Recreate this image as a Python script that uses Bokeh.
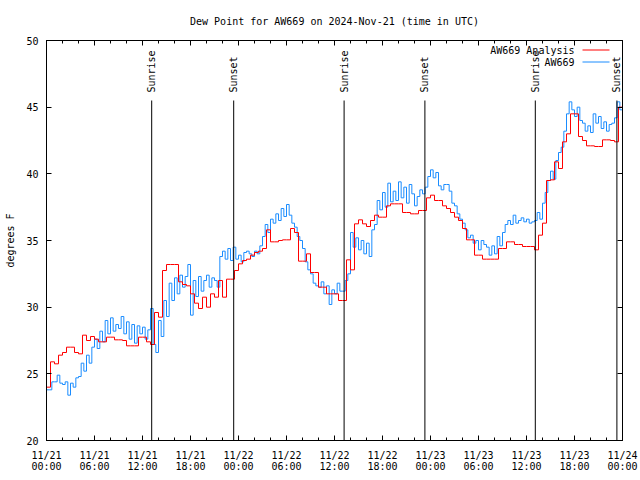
import numpy as np
from bokeh.plotting import figure
from bokeh.models import FixedTicker, LinearAxis, Range1d, Label, Arrow
from bokeh.core.properties import value
from bokeh.embed import file_html
from bokeh.resources import INLINE

TITLE = "Dew Point for AW669 on 2024-Nov-21 (time in UTC)"
Y_LABEL = "degrees F"
SERIES_NAMES = ["AW669 Analysis", "AW669"]

x_tick_hours = [0, 6, 12, 18, 24, 30, 36, 42, 48, 54, 60, 66, 72]
x_tick_labels = ["11/21\n00:00", "11/21\n06:00", "11/21\n12:00", "11/21\n18:00",
                 "11/22\n00:00", "11/22\n06:00", "11/22\n12:00", "11/22\n18:00",
                 "11/23\n00:00", "11/23\n06:00", "11/23\n12:00", "11/23\n18:00",
                 "11/24\n00:00"]
x_minor_hours = list(range(0, 73, 2))
y_ticks = [20, 25, 30, 35, 40, 45, 50]

# analysis series: one value every 30 minutes
analysis_step_hours = 0.5
analysis_values = [
    24.0, 25.9, 25.75, 26.4, 26.6, 27.0, 27.0, 26.6, 26.5, 27.9,
    27.5, 27.8, 27.6, 27.4, 27.4, 27.75, 27.75, 27.55, 27.55, 27.5,
    27.1, 27.1, 27.1, 27.75, 27.75, 27.4, 27.2, 29.6, 29.25, 32.75,
    33.2, 33.2, 33.2, 31.9, 31.7, 31.6, 31.0, 30.3, 29.9, 30.75,
    30.0, 31.0, 30.75, 32.0, 30.75, 32.1, 32.1, 32.75, 33.25, 33.5,
    33.6, 33.9, 34.1, 34.2, 34.4, 35.8, 34.9, 34.9, 35.0, 35.05,
    35.05, 35.9, 35.6, 33.45, 33.45, 34.0, 32.6, 32.6, 31.5, 31.5,
    31.0, 31.0, 31.0, 30.5, 30.5, 33.55, 32.8, 36.25, 36.55, 36.25,
    36.05, 36.5, 36.9, 36.75, 36.75, 37.6, 37.75, 37.75, 37.75, 37.1,
    37.1, 37.0, 37.0, 37.25, 37.25, 38.2, 38.4, 38.0, 38.0, 37.6,
    37.4, 37.1, 36.75, 36.5, 35.9, 35.05, 35.05, 33.9, 33.9, 33.6,
    33.6, 33.6, 33.6, 34.4, 34.4, 34.9, 34.9, 34.7, 34.7, 34.55,
    34.55, 34.55, 34.3, 35.4, 36.3, 39.5, 39.55, 40.9, 40.4, 42.4,
    43.0, 44.5, 44.5, 42.8, 42.5, 42.1, 42.1, 42.05, 42.05, 42.55,
    42.55, 42.5, 42.4, 45.0, 45.2]

# station series: one value every 20 minutes
station_step_hours = 1.0 / 3.0
station_values = [
    23.8, 23.8, 24.4, 24.4, 24.9, 24.3, 24.2, 24.4, 23.4, 24.3, 24.0, 24.7,
    24.8, 25.8, 25.2, 26.4, 25.8, 27.0, 27.6, 26.9, 28.2, 27.4, 29.0, 28.0,
    29.2, 28.2, 28.7, 28.4, 29.3, 28.0,
    28.9, 27.6, 28.7, 27.3, 28.6, 28.0, 28.5, 27.6, 28.3, 29.9, 27.2, 26.6,
    29.0, 27.8, 30.5, 29.3, 31.8, 30.5, 32.2, 31.0, 32.4, 31.5, 32.3, 33.2,
    29.4, 32.0, 30.8, 32.3, 31.2, 32.0,
    32.4, 31.5, 32.2, 32.0, 31.5, 33.8, 34.2, 33.6, 34.4, 33.5, 34.5, 33.6,
    33.9, 33.4, 34.1, 34.2, 34.0, 33.8, 34.2, 34.0, 34.6, 35.3, 36.2, 35.6,
    36.6, 36.3, 37.0, 36.5, 37.4, 36.8,
    37.7, 36.9, 36.3, 36.0, 35.3, 35.0, 34.4, 33.4, 32.8, 32.5, 31.8, 31.6,
    31.5, 31.9, 31.0, 31.6, 30.2, 31.3, 31.0, 31.8, 31.2, 31.2, 32.0, 32.5,
    35.6, 34.5, 35.2, 34.3, 35.0, 34.0,
    34.8, 33.8, 35.8, 36.2, 38.0, 37.3, 38.6, 37.5, 39.3, 37.9, 38.7, 38.0,
    39.4, 38.2, 39.0, 37.8, 39.2, 38.5, 37.6, 38.3, 38.8, 38.5, 39.0, 39.8,
    40.3, 39.7, 40.1, 39.1, 38.8, 39.2,
    39.2, 38.7, 37.8, 37.6, 37.0, 36.6, 36.3, 35.8, 35.2, 35.4, 34.8, 35.0,
    34.3, 35.0, 34.7, 34.5, 33.9, 34.6, 34.0, 35.3, 34.6, 35.6, 36.2, 36.5,
    36.2, 36.9, 36.3, 36.5, 36.7, 36.4,
    36.6, 36.3, 36.4, 36.5, 37.1, 36.6, 37.8, 38.6, 39.5, 40.2, 39.6, 41.0,
    41.6, 42.0, 43.2, 44.5, 45.4, 44.8, 44.3, 45.0, 44.0, 43.8, 43.2, 43.6,
    43.1, 44.5, 43.8, 44.3, 43.4, 43.9,
    43.2, 43.7, 43.8, 44.2, 45.4, 44.8,
    45.2]

sun_event_hours = [13.15, 23.4, 37.2, 47.3, 61.1, 71.3]
sun_event_names = ["Sunrise", "Sunset", "Sunrise", "Sunset", "Sunrise", "Sunset"]
sun_line_top = 45.5
sun_label_y = 46.1

RED = "#ff0000"
BLUE = "#1a8cff"
FONT = "DejaVu Sans Mono"
FS = "10px"

analysis_hours = np.arange(len(analysis_values)) * analysis_step_hours
station_hours = np.arange(len(station_values)) * station_step_hours

p = figure(width=640, height=480, output_backend="svg", toolbar_location=None,
           x_range=Range1d(0, 72), y_range=Range1d(20, 50),
           min_border_left=46, min_border_right=18, min_border_top=40, min_border_bottom=40)
p.background_fill_color = "white"
p.border_fill_color = "white"
p.outline_line_color = "black"
p.outline_line_width = 1
p.xgrid.visible = False
p.ygrid.visible = False

p.title.text = TITLE
p.title.text_font = FONT
p.title.text_font_size = FS
p.title.text_font_style = "normal"
p.title.align = "center"
p.title.text_color = "black"
p.title.standoff = 27

xt = FixedTicker(ticks=x_tick_hours, minor_ticks=x_minor_hours)
yt = FixedTicker(ticks=y_ticks, minor_ticks=[])

def style_axis(ax, labels=True):
    ax.axis_line_color = "black"
    ax.major_tick_in = 5
    ax.major_tick_out = 0
    ax.minor_tick_in = 3
    ax.minor_tick_out = 0
    ax.major_tick_line_color = "black"
    ax.minor_tick_line_color = "black"
    ax.major_label_text_font = FONT
    ax.major_label_text_font_size = FS
    if labels:
        ax.major_label_text_color = "black"
        ax.major_label_standoff = 8
    else:
        ax.major_label_text_color = None
        ax.major_label_standoff = 0

xa = p.xaxis[0]
xa.ticker = xt
style_axis(xa)
xa.major_label_overrides = {h: lab for h, lab in zip(x_tick_hours, x_tick_labels)}
xa.major_label_text_line_height = 1.0
xa.major_label_standoff = 9

ya = p.yaxis[0]
ya.ticker = yt
style_axis(ya)
ya.axis_label = Y_LABEL
ya.axis_label_text_font = FONT
ya.axis_label_text_font_size = FS
ya.axis_label_text_font_style = "normal"
ya.axis_label_text_color = "black"
ya.axis_label_standoff = 7

top = LinearAxis(ticker=xt)
style_axis(top, labels=False)
p.add_layout(top, "above")
right = LinearAxis(ticker=yt)
style_axis(right, labels=False)
p.add_layout(right, "right")

p.step(station_hours, station_values, mode="after", line_color=BLUE, line_width=1)
p.step(analysis_hours, analysis_values, mode="after", line_color=RED, line_width=1)

p.segment(x0=sun_event_hours, y0=[20] * len(sun_event_hours),
          x1=sun_event_hours, y1=[sun_line_top] * len(sun_event_hours),
          line_color="black", line_width=1)
p.text(x=sun_event_hours, y=[sun_label_y] * len(sun_event_hours), text=sun_event_names,
       angle=np.pi / 2, text_align="left", text_baseline="middle",
       text_font=value(FONT), text_font_size=value(FS), text_color="black")

# legend (text then sample, gnuplot style), frame-relative screen units
for i, (name, col) in enumerate(zip(SERIES_NAMES, [RED, BLUE])):
    yy = 390.5 - 12 * i
    p.add_layout(Label(x=528, y=yy, x_units="screen", y_units="screen", text=name,
                       text_align="right", text_baseline="middle",
                       text_font=FONT, text_font_size=FS, text_color="black"))
    p.add_layout(Arrow(end=None, x_start=536, y_start=yy, x_end=563, y_end=yy,
                       start_units="screen", end_units="screen",
                       line_color=col, line_width=1))

open("out.html", "w").write(file_html(p, INLINE))
